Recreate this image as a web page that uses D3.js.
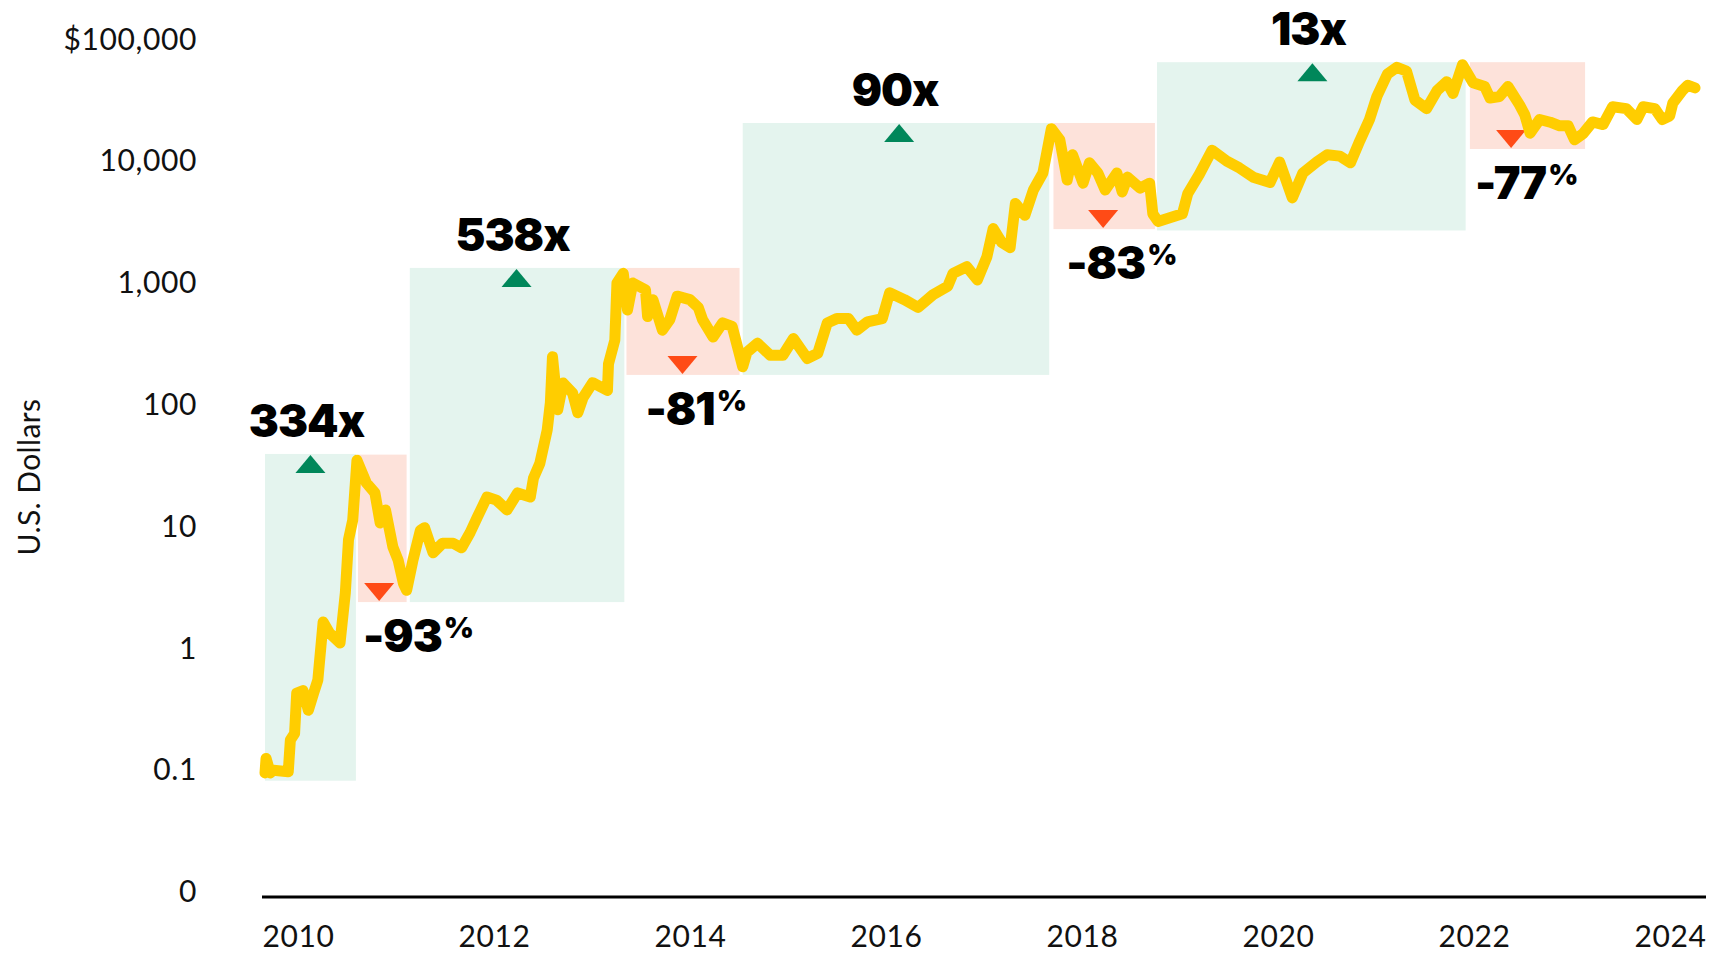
<!DOCTYPE html>
<html>
<head>
<meta charset="utf-8">
<script src="https://cdn.jsdelivr.net/npm/d3@7"></script>
<style>
  html, body { margin: 0; background: #fff; }
  svg { display: block; }
</style>
</head>
<body>
<svg id="chart"></svg>
<script>
// price series (decimal year, US$)
const dates = [
  2010.54, 2010.55, 2010.59, 2010.62, 2010.76, 2010.78, 2010.82, 2010.84, 2010.90, 2010.95,
  2011.00, 2011.04, 2011.09, 2011.15, 2011.25, 2011.30, 2011.33, 2011.37, 2011.41, 2011.50,
  2011.58, 2011.63, 2011.68, 2011.75, 2011.80, 2011.85, 2011.88, 2011.94, 2012.01, 2012.05,
  2012.13, 2012.22, 2012.32, 2012.40, 2012.48, 2012.55, 2012.64, 2012.73, 2012.83, 2012.93,
  2013.05, 2013.08, 2013.14, 2013.21, 2013.24, 2013.26, 2013.31, 2013.36, 2013.45, 2013.50,
  2013.55, 2013.64, 2013.78, 2013.79, 2013.85, 2013.87, 2013.93, 2013.97, 2014.02, 2014.14,
  2014.16, 2014.21, 2014.30, 2014.37, 2014.44, 2014.56, 2014.64, 2014.68, 2014.78, 2014.87,
  2014.96, 2015.06, 2015.10, 2015.20, 2015.32, 2015.44, 2015.54, 2015.67, 2015.77, 2015.86,
  2015.95, 2016.06, 2016.14, 2016.24, 2016.38, 2016.45, 2016.59, 2016.72, 2016.86, 2017.00,
  2017.05, 2017.18, 2017.28, 2017.37, 2017.43, 2017.51, 2017.59, 2017.64, 2017.73, 2017.81,
  2017.90, 2017.98, 2018.06, 2018.13, 2018.18, 2018.28, 2018.34, 2018.42, 2018.49, 2018.60,
  2018.65, 2018.70, 2018.82, 2018.91, 2018.94, 2018.99, 2019.13, 2019.22, 2019.27, 2019.38,
  2019.50, 2019.64, 2019.76, 2019.89, 2020.05, 2020.14, 2020.26, 2020.36, 2020.49, 2020.59,
  2020.71, 2020.81, 2020.90, 2020.99, 2021.06, 2021.16, 2021.25, 2021.34, 2021.42, 2021.53,
  2021.63, 2021.72, 2021.78, 2021.87, 2021.97, 2022.08, 2022.13, 2022.22, 2022.30, 2022.41,
  2022.46, 2022.51, 2022.60, 2022.70, 2022.79, 2022.87, 2022.93, 2023.01, 2023.10, 2023.20,
  2023.29, 2023.42, 2023.52, 2023.58, 2023.69, 2023.76, 2023.83, 2023.86, 2023.95, 2024.00,
  2024.07
];
const prices = [
  0.095, 0.125, 0.095, 0.10, 0.097, 0.177, 0.20, 0.43, 0.45, 0.31,
  0.43, 0.55, 1.65, 1.34, 1.11, 2.85, 7.8, 11.3, 35, 22.8,
  18.9, 10.7, 13.7, 6.8, 5.3, 3.4, 3.0, 5.3, 9.3, 9.8,
  6.1, 7.3, 7.3, 6.7, 8.9, 12.0, 17.5, 16.5, 13.7, 18.9,
  17.5, 25, 33, 62, 104, 248, 91, 151, 125, 86,
  115, 152, 131, 217, 340, 1000, 1200, 600, 1000, 880,
  530, 730, 410, 500, 780, 730, 630, 500, 360, 470,
  440, 205, 270, 320, 255, 255, 350, 240, 265, 470,
  510, 510, 410, 480, 510, 830, 730, 630, 800, 940,
  1200, 1360, 1060, 1640, 2800, 2160, 1950, 4500, 3600, 5800,
  8000, 18500, 15000, 7000, 11300, 6600, 9700, 8000, 5800, 8000,
  5600, 7400, 6000, 6600, 3700, 3200, 3500, 3700, 5400, 7800,
  12300, 10000, 8800, 7400, 6700, 9850, 5000, 8000, 9850, 11300,
  11000, 9700, 14800, 22000, 34000, 52000, 59000, 55000, 31800, 27000,
  38000, 45000, 36000, 62000, 44000, 41000, 33000, 34000, 41000, 29000,
  24000, 17000, 22000, 20900, 19500, 19500, 15000, 16800, 21000, 20000,
  28000, 27000, 22000, 28000, 27000, 22000, 23500, 30000, 38000, 42000,
  40000
];

// bull / bear periods
const periodKind   = ["up", "down", "up", "down", "up", "down", "up", "down"];
const periodStart  = [2010.54, 2011.42, 2011.91, 2013.96, 2015.06, 2018.00, 2018.98, 2021.94];
const periodEnd    = [2011.40, 2011.88, 2013.94, 2015.03, 2017.96, 2018.96, 2021.90, 2023.03];
const periodLow    = [0.082, 2.4, 2.4, 176, 176, 2770, 2700, 12600];
const periodHigh   = [39.5, 39, 1330, 1330, 20600, 20600, 65000, 65000];
const periodMarker = [2010.97, 2011.62, 2012.92, 2014.49, 2016.54, 2018.47, 2020.45, 2022.33];
const periodLabel  = ["334x", "-93%", "538x", "-81%", "90x", "-83%", "13x", "-77%"];

const yTicks = [0.01, 0.1, 1, 10, 100, 1000, 10000, 100000];
const yTickLabels = ["0", "0.1", "1", "10", "100", "1,000", "10,000", "$100,000"];
const xTickLabels = ["2010", "2012", "2014", "2016", "2018", "2020", "2022", "2024"];

const series = dates.map((d, i) => ({ date: d, price: prices[i] }));
const periods = periodKind.map((k, i) => ({
  kind: k, start: periodStart[i], end: periodEnd[i], marker: periodMarker[i],
  low: periodLow[i], high: periodHigh[i], label: periodLabel[i]
}));

const width = 1709, height = 953;
const svg = d3.select("#chart").attr("width", width).attr("height", height);

const x = d3.scaleLinear().domain([2010.54, 2024.07]).range([265, 1695]);
const y = d3.scaleLog().domain([0.01, 100000]).range([892, 39.4]);
const xLabel = d3.scalePoint().domain(xTickLabels).range([298, 1670]);

const tickFont = "Lato, 'Open Sans', sans-serif";
const boldFont = "Inter, Roboto, sans-serif";

// shaded boxes
svg.append("g")
  .selectAll("rect")
  .data(periods)
  .join("rect")
  .attr("x", d => x(d.start))
  .attr("y", d => y(d.high))
  .attr("width", d => x(d.end) - x(d.start))
  .attr("height", d => y(d.low) - y(d.high))
  .attr("fill", d => d.kind === "up" ? "#e4f4ee" : "#fde2da");

// triangles
svg.append("g")
  .selectAll("path")
  .data(periods)
  .join("path")
  .attr("transform", d => {
    const cy = d.kind === "up" ? y(d.high) + 10 : y(d.low) - 10;
    return `translate(${x(d.marker)},${cy})`;
  })
  .attr("d", d => d.kind === "up" ? "M-15,9L15,9L0,-9Z" : "M-15,-9L15,-9L0,9Z")
  .attr("fill", d => d.kind === "up" ? "#00875a" : "#ff4b16");

// price line
const line = d3.line()
  .x(d => x(d.date))
  .y(d => y(d.price));

svg.append("path")
  .datum(series)
  .attr("d", line)
  .attr("fill", "none")
  .attr("stroke", "#ffcd00")
  .attr("stroke-width", 11)
  .attr("stroke-linejoin", "round")
  .attr("stroke-linecap", "round");

// labels
const labels = svg.append("g")
  .style("font-family", boldFont)
  .style("font-weight", 900)
  .attr("fill", "#000");

labels.selectAll("text.up")
  .data(periods.filter(d => d.kind === "up"))
  .join("text")
  .attr("class", "up")
  .attr("x", d => x(d.marker) - 4)
  .attr("y", d => y(d.high) - 17)
  .attr("text-anchor", "middle")
  .style("font-size", "45px")
  .style("letter-spacing", "-1px")
  .text(d => d.label);

const down = labels.selectAll("text.down")
  .data(periods.filter(d => d.kind === "down"))
  .join("text")
  .attr("class", "down")
  .attr("x", d => Math.max(x(d.start) + 5, x(d.marker) - 37))
  .attr("y", d => y(d.low) + 50)
  .style("font-size", "45px")
  .style("letter-spacing", "-1px");
down.append("tspan").text(d => d.label.slice(0, -1));
down.append("tspan")
  .attr("dy", -14)
  .attr("dx", 2)
  .style("font-size", "29px")
  .text("%");

// y axis
const yAxis = svg.append("g")
  .attr("transform", "translate(197,0)")
  .call(d3.axisLeft(y).tickValues(yTicks).tickSize(0).tickPadding(0)
    .tickFormat((d, i) => yTickLabels[i]));
yAxis.select(".domain").remove();
yAxis.selectAll("text")
  .style("font-family", tickFont)
  .style("font-size", "30px")
  .style("letter-spacing", "0.6px")
  .attr("fill", "#111");

svg.append("text")
  .attr("transform", "translate(40,477) rotate(-90)")
  .attr("text-anchor", "middle")
  .style("font-family", tickFont)
  .style("font-size", "30px")
  .style("letter-spacing", "0.4px")
  .attr("fill", "#111")
  .text("U.S. Dollars");

// x axis
svg.append("line")
  .attr("x1", 262).attr("x2", 1706)
  .attr("y1", 897).attr("y2", 897)
  .attr("stroke", "#000")
  .attr("stroke-width", 3);

const xAxis = svg.append("g")
  .attr("transform", "translate(0,926)")
  .call(d3.axisBottom(xLabel).tickSize(0).tickPadding(0));
xAxis.select(".domain").remove();
xAxis.selectAll("text")
  .style("font-family", tickFont)
  .style("font-size", "30px")
  .style("letter-spacing", "0.6px")
  .attr("fill", "#111");
</script>
</body>
</html>
